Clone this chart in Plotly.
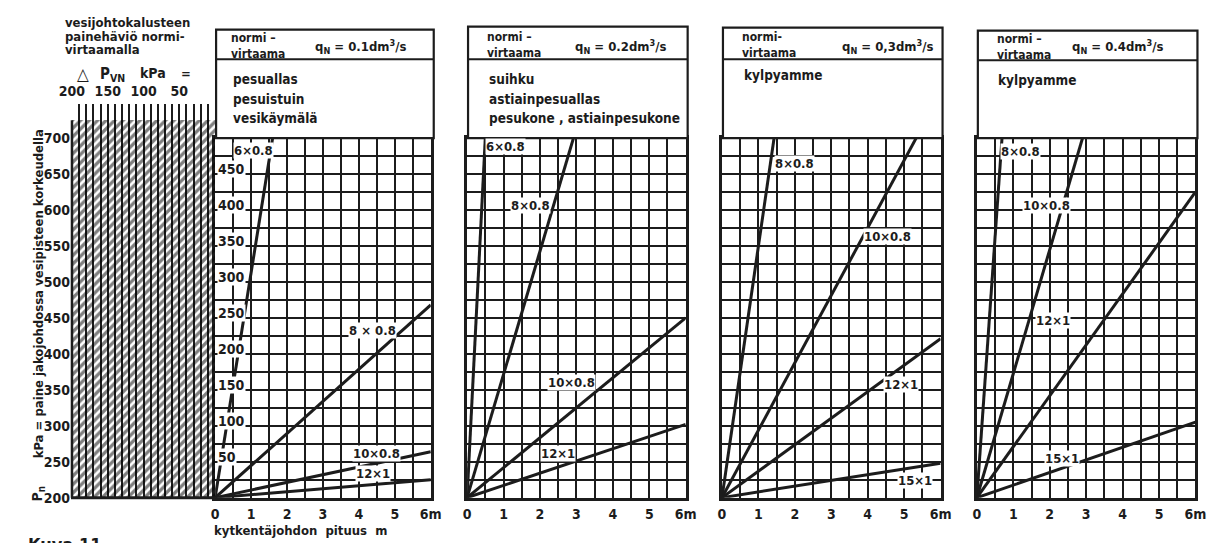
import plotly.graph_objects as go

W, H = 1223, 543
FONT = "DejaVu Sans Condensed, Liberation Sans Narrow, DejaVu Sans, sans-serif"
INK = "#1c1c1c"

# ---------------- data ----------------
panel_flow = ["0.1", "0.2", "0,3", "0.4"]
panel_fixtures = [
    ["pesuallas", "pesuistuin", "vesikäymälä"],
    ["suihku", "astiainpesuallas", "pesukone , astiainpesukone"],
    ["kylpyamme"],
    ["kylpyamme"],
]
# pipe lines: end point of each straight line from the origin (length m, pressure loss kPa)
p1_pipes = ["6×0.8", "8×0.8", "10×0.8", "12×1"]
p1_end_x = [1.6, 6.0, 6.0, 6.0]
p1_end_y = [500, 268, 64, 25]
p2_pipes = ["6×0.8", "8×0.8", "10×0.8", "12×1"]
p2_end_x = [0.5, 2.92, 6.0, 6.0]
p2_end_y = [500, 500, 250, 102]
p3_pipes = ["8×0.8", "10×0.8", "12×1", "15×1"]
p3_end_x = [1.43, 5.33, 6.0, 6.0]
p3_end_y = [500, 500, 221, 48]
p4_pipes = ["8×0.8", "10×0.8", "12×1", "15×1"]
p4_end_x = [0.69, 2.9, 6.0, 6.0]
p4_end_y = [500, 500, 425, 105]
# label positions (m, kPa)
p1_lab_x = [1.07, 4.39, 4.5, 4.4]
p1_lab_y = [483, 232, 61, 33]
p1_lab_t = ["6×0.8", "8 × 0.8", "10×0.8", "12×1"]
p2_lab_x = [1.05, 1.75, 2.87, 2.5]
p2_lab_y = [488, 406, 160, 61]
p3_lab_x = [2.0, 4.55, 4.9, 5.3]
p3_lab_y = [465, 363, 158, 24]
p4_lab_x = [1.2, 1.9, 2.1, 2.35]
p4_lab_y = [482, 406, 246, 55]

x_ticks = [0, 1, 2, 3, 4, 5, 6]
x_tick_text = ["0", "1", "2", "3", "4", "5", "6m"]
loss_labels = [50, 100, 150, 200, 250, 300, 350, 400, 450]
pn_ticks = [0, 50, 100, 150, 200, 250, 300, 350, 400, 450, 500]
pn_text = ["200", "250", "300", "350", "400", "450", "500", "550", "600", "650", "700"]
dp_ticks = [200, 150, 100, 50]

# ---------------- geometry (pixels) ----------------
def fx(p):
    return p / W

def fy(p):
    return 1 - p / H

Y_BOT, Y_TOP = 497, 132
panels_px = [(198, 418), (455, 678), (715, 938), (975, 1198)]
boxes_px = [(199, 421, 22, 52), (456, 680, 19, 52), (716, 940, 20, 52), (976, 1200, 23, 53)]
HATCH_L, HATCH_TOPPX = 52, 97
kpa_per_px = 500 / (Y_BOT - Y_TOP)

fig = go.Figure()

pipes = [(p1_pipes, p1_end_x, p1_end_y), (p2_pipes, p2_end_x, p2_end_y),
         (p3_pipes, p3_end_x, p3_end_y), (p4_pipes, p4_end_x, p4_end_y)]
labs = [(p1_lab_x, p1_lab_y, p1_lab_t), (p2_lab_x, p2_lab_y, p2_pipes),
        (p3_lab_x, p3_lab_y, p3_pipes), (p4_lab_x, p4_lab_y, p4_pipes)]

for i, (names, ex, ey) in enumerate(pipes):
    xa = "x" if i == 0 else f"x{i+1}"
    ya = "y" if i == 0 else f"y{i+1}"
    for n, x1, y1 in zip(names, ex, ey):
        fig.add_trace(go.Scatter(x=[0, x1], y=[0, y1], mode="lines", xaxis=xa, yaxis=ya,
                                 line=dict(color=INK, width=3), showlegend=False, name=n,
                                 hoverinfo="skip"))

# hatched fixture-loss strip
fig.add_trace(go.Scatter(x=[200, 0, 0, 200, 200], y=[0, 0, 525, 525, 0], mode="lines",
                         xaxis="x5", yaxis="y5", fill="toself", fillcolor="rgba(0,0,0,0)",
                         fillpattern=dict(shape="/", size=6, solidity=0.55, fgcolor="#000000",
                                          bgcolor="rgba(0,0,0,0)"),
                         line=dict(width=0), showlegend=False, hoverinfo="skip"))

layout = dict(width=W, height=H, margin=dict(l=0, r=0, t=0, b=0),
              paper_bgcolor="white", plot_bgcolor="white", showlegend=False,
              font=dict(family=FONT, color=INK))

tickfont = dict(family=FONT, size=14, color=INK, weight="bold")
for i, (l, r) in enumerate(panels_px):
    k = "" if i == 0 else str(i + 1)
    layout[f"xaxis{k}"] = dict(domain=[fx(l), fx(r)], range=[0, 6], anchor=f"y{k}",
                               tickvals=x_ticks, ticktext=x_tick_text, tickfont=tickfont,
                               showgrid=True, gridcolor=INK, gridwidth=1.6,
                               minor=dict(dtick=0.5, showgrid=True, gridcolor=INK, gridwidth=1.6),
                               tickmode="array", zeroline=False, showline=True, mirror=True,
                               linecolor=INK, linewidth=2.5, ticks="", ticklabelstandoff=2)
    layout[f"yaxis{k}"] = dict(domain=[fy(Y_BOT), fy(Y_TOP)], range=[0, 500], anchor=f"x{k}",
                               dtick=25, showgrid=True, gridcolor=INK, gridwidth=1.6,
                               showticklabels=False, zeroline=False, showline=True, mirror=True,
                               linecolor=INK, linewidth=2.5, ticks="")

layout["xaxis5"] = dict(domain=[fx(HATCH_L), fx(198)], range=[(198 - HATCH_L) * kpa_per_px, 0],
                        anchor="y5", side="top", tickvals=dp_ticks, tickfont=tickfont,
                        showgrid=False, minor=dict(dtick=10, showgrid=True, gridcolor=INK, gridwidth=1.8),
                        zeroline=False, showline=False, ticks="", ticklabelstandoff=4)
layout["yaxis5"] = dict(domain=[fy(Y_BOT), fy(HATCH_TOPPX)], range=[0, (Y_BOT - HATCH_TOPPX) * kpa_per_px],
                        anchor="x5", tickvals=pn_ticks, ticktext=pn_text, tickfont=tickfont,
                        showgrid=False, zeroline=False, showline=False, ticks="", ticklabelstandoff=1)
fig.update_layout(**layout)

shapes = []
shapes.append(dict(type="line", xref="paper", yref="paper", x0=fx(HATCH_L - 1), x1=fx(198),
                   y0=fy(Y_BOT), y1=fy(Y_BOT), line=dict(color=INK, width=3)))
shapes.append(dict(type="line", xref="paper", yref="paper", x0=fx(HATCH_L), x1=fx(HATCH_L),
                   y0=fy(Y_BOT), y1=fy(114), line=dict(color=INK, width=2.5)))
for (l, r, t, d) in boxes_px:
    shapes.append(dict(type="rect", xref="paper", yref="paper", x0=fx(l), x1=fx(r),
                       y0=fy(Y_TOP), y1=fy(t), line=dict(color=INK, width=2.2), fillcolor="white"))
    shapes.append(dict(type="line", xref="paper", yref="paper", x0=fx(l), x1=fx(r),
                       y0=fy(d), y1=fy(d), line=dict(color=INK, width=2)))
fig.update_layout(shapes=shapes)

ann = []
def text(x, y, s, size=13, bold=True, xanchor="left", yanchor="middle", angle=0):
    ann.append(dict(xref="paper", yref="paper", x=fx(x), y=fy(y), text=s, showarrow=False,
                    xanchor=xanchor, yanchor=yanchor, textangle=angle, align="left",
                    font=dict(family=FONT, size=size, color=INK, weight="bold" if bold else "normal")))

hdr_x = [212, 473, 733, 993]
hdr_y = [39, 38, 38, 40]
q_x = [298, 563, 835, 1070]
body_y0 = [72, 72, 68, 73]
for i in range(4):
    text(hdr_x[i], hdr_y[i], ("normi –" if i != 2 else "normi-") + "<br>virtaama", size=12)
    text(q_x[i], 40, f"q<sub>N</sub> = {panel_flow[i]}dm<sup>3</sup>/s", size=13)
    for j, f in enumerate(panel_fixtures[i]):
        text(hdr_x[i] + 2, body_y0[i] + 20 * j, f, size=13.5)

for i, (lx, ly, lt) in enumerate(labs):
    xa = "x" if i == 0 else f"x{i+1}"
    ya = "y" if i == 0 else f"y{i+1}"
    for x, y, t in zip(lx, ly, lt):
        ann.append(dict(xref=xa, yref=ya, x=x, y=y, text=t, showarrow=False, bgcolor="white",
                        borderpad=0, font=dict(family=FONT, size=13, color=INK, weight="bold")))

for v in loss_labels:
    ann.append(dict(xref="x", yref="y", x=0.06, y=v, text=str(v), showarrow=False, xanchor="left",
                    yanchor="middle", yshift=5, bgcolor="white", borderpad=0,
                    font=dict(family=FONT, size=14, color=INK, weight="bold")))

text(43, 15, "vesijohtokalusteen", size=13)
text(43, 29, "painehäviö normi-", size=13)
text(43, 42, "virtaamalla", size=13)
text(55, 67, "△", size=17, bold=False)
text(79, 68, "P<sub>VN</sub>", size=15)
text(119, 66, "kPa", size=14)
text(161, 66, "=", size=13)

text(18, 290, "kPa = paine jakojohdossa vesipisteen korkeudella", size=13, xanchor="center",
     angle=-90)
text(17, 493, "P<sub>n</sub>", size=14, xanchor="center", angle=-90)

text(195, 530, "kytkentäjohdon  pituus  m", size=13)
text(5, 532, "Kuva 11", size=18, yanchor="top")

fig.update_layout(annotations=ann)
fig.write_html("out.html")
